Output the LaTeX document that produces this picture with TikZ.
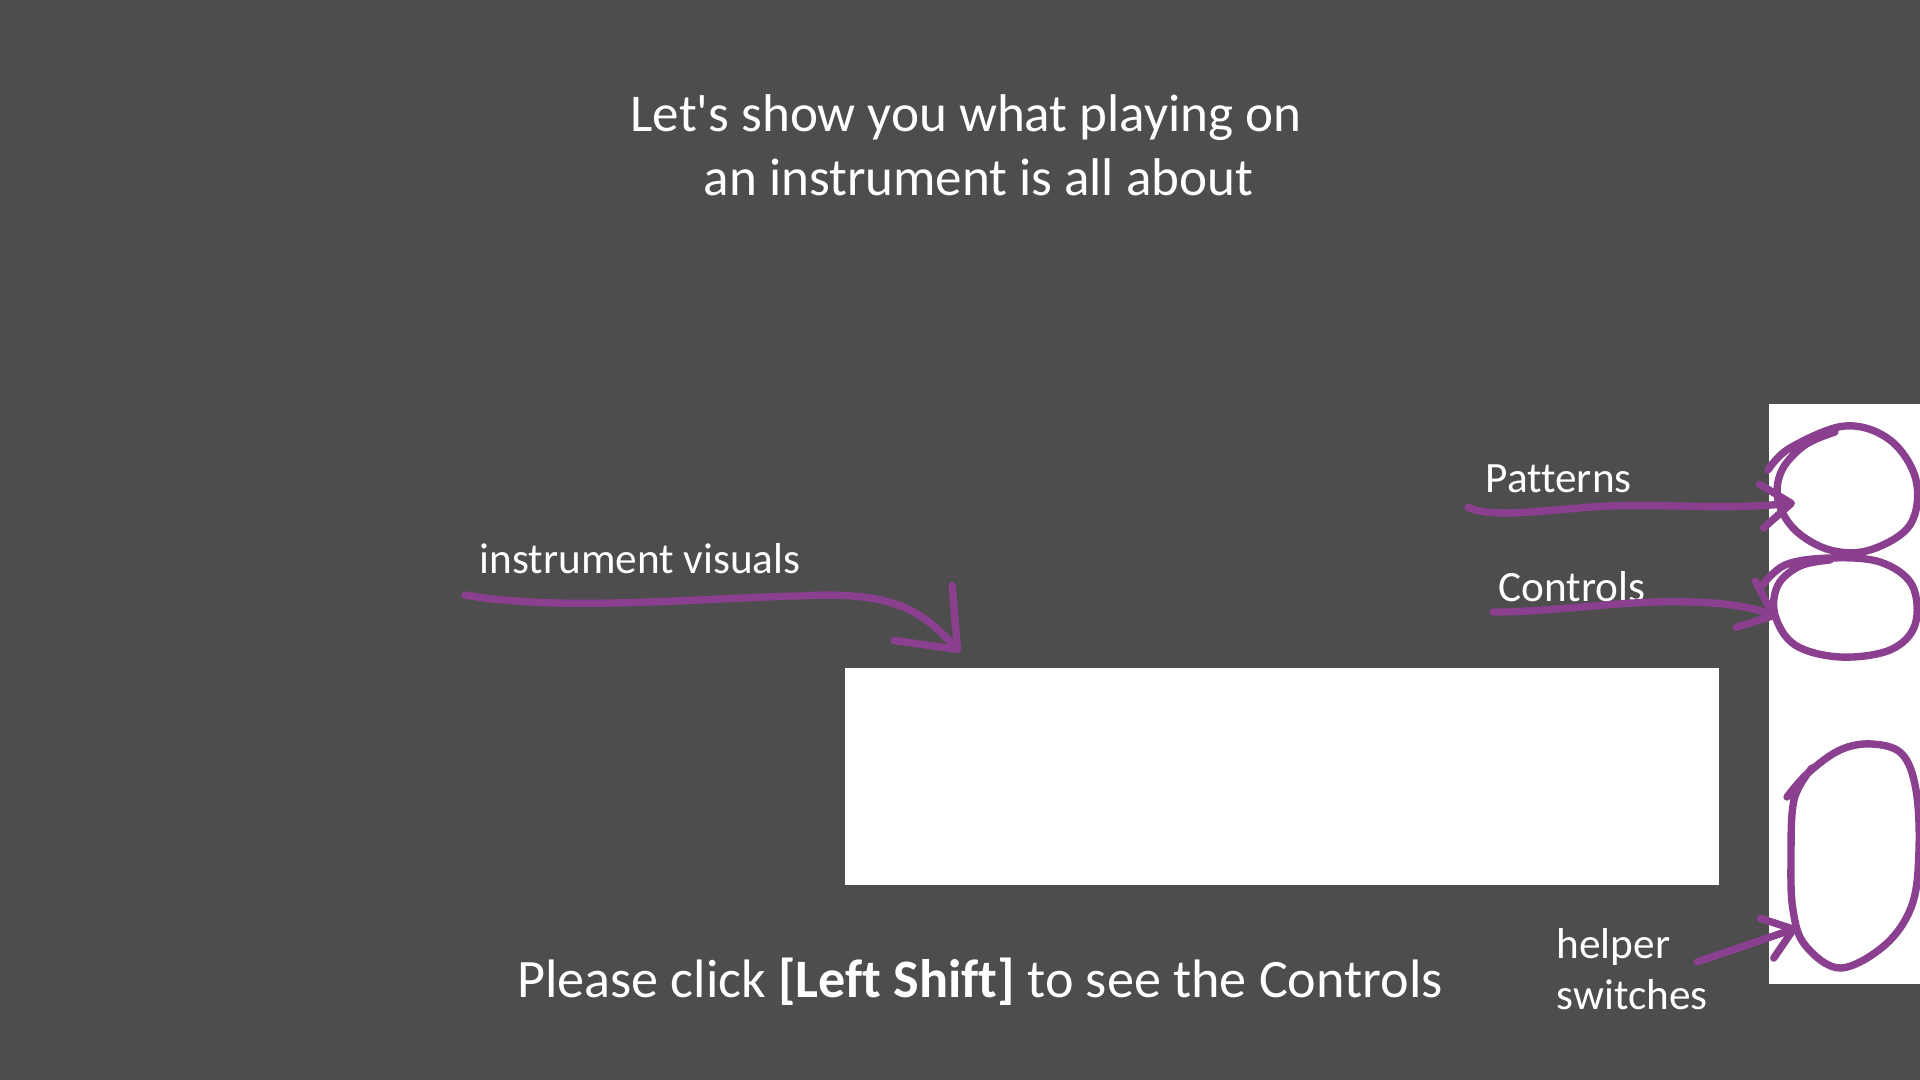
\documentclass[tikz,border=0pt]{standalone}
\usepackage{fontspec}
\setmainfont{Carlito}[Ligatures={TeXOff,NoCommon}]
\usepackage{tikz}
\usetikzlibrary{arrows.meta,positioning}
\definecolor{slidegray}{RGB}{77,77,77}
\definecolor{inkpurple}{RGB}{139,63,143}
\tikzset{
  panel/.style={draw=none, fill=white, inner sep=0pt, anchor=north west},
  bigtext/.style={text=white, inner sep=0pt, align=center,
                  font=\fontsize{15.1}{18.2}\selectfont},
  tag/.style={text=white, inner sep=0pt, align=left,
              font=\fontsize{12.3}{14.5}\selectfont},
  ink/.style={draw=inkpurple, line width=2.1pt, line cap=round, line join=round},
  inkarrow/.style={ink, -{Straight Barb[round, #1]}}
}

\begin{document}
\begin{tikzpicture}[x=0.01cm, y=-0.01cm]
  \useasboundingbox (0,0) rectangle (1920,1080);
  \fill[slidegray] (0,0) rectangle (1920,1080);

  % panels
  \node[panel, minimum width=8.74cm, minimum height=2.17cm] (visuals) at (844,667) {};
  \node[panel, minimum width=1.52cm, minimum height=5.8cm] (sidebar) at (1768,403) {};

  % texts
  \node[bigtext, anchor=north] (title) at (966,94) {Let's show you what playing on\\ \hspace{0.25cm}an instrument is all about};
  \node[bigtext, anchor=base, font=\fontsize{15.4}{18.2}\selectfont] (hint) at (980,998) {Please click \textbf{[Left Shift]} to see the Controls};
  \node[tag, anchor=base west] (instvis) at (479,574) {instrument visuals};
  \node[tag, anchor=base west] (patterns) at (1485,493) {Patterns};
  \node[tag, anchor=base west] (controls) at (1498,602) {Controls};
  \node[tag, anchor=north west] (helper) at (1556,928) {helper\\switches};

  % loops round the sidebar items
  \draw[ink] plot[smooth, tension=0.6] coordinates {(1768,470) (1790,448) (1845,426) (1890,440) (1916,480)
    (1910,525) (1870,550) (1830,550) (1795,530) (1778,500) (1782,470) (1805,445) (1835,432)};
  \draw[ink] plot[smooth, tension=0.6] coordinates {(1760,588) (1785,565) (1830,558) (1880,562) (1912,585)
    (1915,625) (1890,650) (1840,657) (1795,645) (1775,615) (1778,585) (1800,566) (1830,560)};
  \draw[ink] plot[smooth, tension=0.6] coordinates {(1787,797) (1808,773) (1840,750) (1872,744) (1902,754)
    (1916,790) (1919,850) (1912,905) (1885,945) (1840,968) (1805,945) (1793,910) (1791,860) (1794,800) (1812,768)};

  % arrow ends
  \coordinate (visTail) at (465,595);
  \coordinate (visTip) at (960,652);
  \coordinate (patTail) at (1468,507);
  \coordinate (patTip) at (1795,503);
  \coordinate (ctlTail) at (1493,612);
  \coordinate (ctlTip) at (1777,617);
  \coordinate (helpTail) at (1697,962);
  \coordinate (helpTip) at (1797,928);

  % arrows
  \draw[inkarrow={length=5mm, width=8mm}] (visTail) .. controls (560,612) and (700,598) .. (800,596)
    .. controls (900,590) and (925,615) .. (visTip);
  \draw[inkarrow={length=3mm, width=4.4mm}] (patTail) .. controls (1490,520) and (1560,508) .. (1610,506)
    .. controls (1680,504) and (1720,510) .. (patTip);
  \draw[inkarrow={length=3mm, width=5mm}] (ctlTail) .. controls (1560,612) and (1620,600) .. (1690,602)
    .. controls (1730,603) and (1755,608) .. (ctlTip);
  \draw[inkarrow={length=2.8mm, width=4.2mm}] (helpTail) -- (helpTip);
\end{tikzpicture}
\end{document}
